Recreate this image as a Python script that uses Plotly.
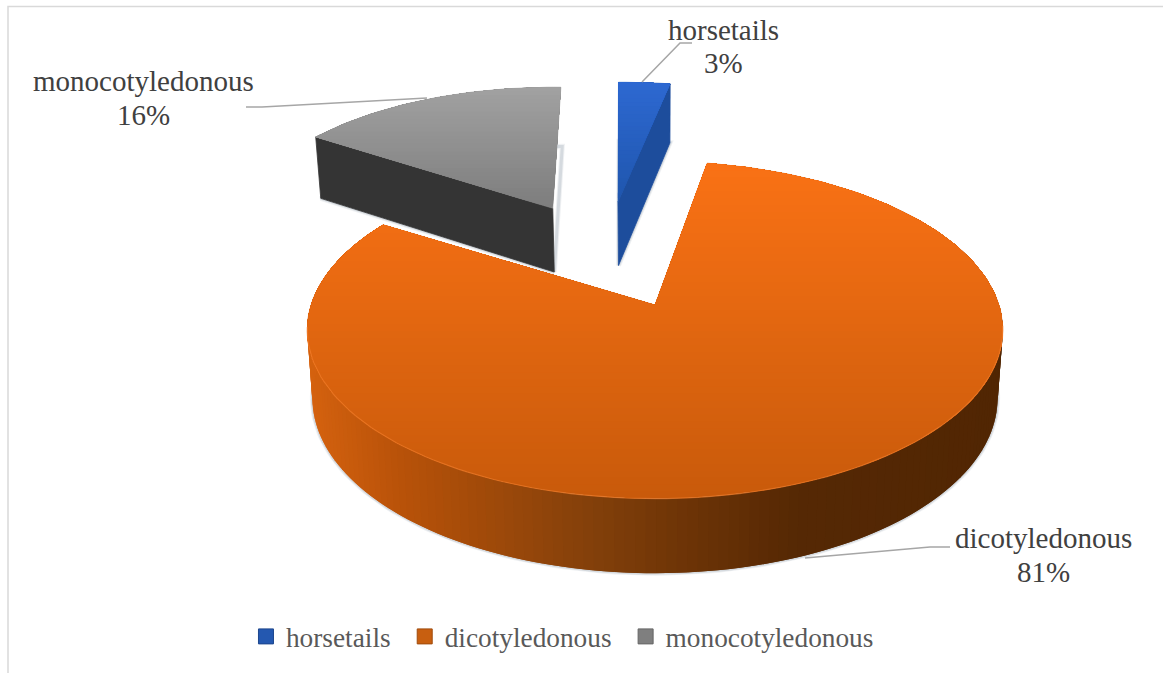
import math
import plotly.graph_objects as go

# ---- data ----
categories = ["horsetails", "dicotyledonous", "monocotyledonous"]
shares = [3, 81, 16]
legend_colors = ["#2458B0", "#C85F10", "#7F7F7F"]

# ---- projection of the tilted pie (screen pixels) ----
W, H = 1163, 673
X0, Y0 = 655, 305          # screen position of the dicotyledonous apex
A, B, K = 344, 165, 0.148  # radii and perspective strength
START_DEG = -0.8           # first slice starts here, clockwise from the back
EXPLODE = 0.36
BASE_SCALE = 0.985
warp = None                # small per-slice correction of the projection


def project(u, v):
    s = 1 / (1 - K * v)
    return X0 + A * u * s, Y0 + B * v * s, s


def apply_warp(x, y):
    if warp is None:
        return x, y
    cx, sx, shear = warp
    return cx + (x - cx) * sx, y - shear * (cx - x)


def top(u, v):
    x, y, _ = project(u, v)
    return apply_warp(x, y)


def bottom(u, v):
    x, y, s = project(u, v)
    return apply_warp(X0 + (x - X0) * BASE_SCALE, y + 25.6 + 41.7 * s)


def hexmix(c1, c2, t):
    a = [int(c1[i:i + 2], 16) for i in (1, 3, 5)]
    b = [int(c2[i:i + 2], 16) for i in (1, 3, 5)]
    return "#%02x%02x%02x" % tuple(round(p + (q - p) * t) for p, q in zip(a, b))


def ramp(stops, x):
    if x <= stops[0][0]:
        return stops[0][1]
    for (x1, c1), (x2, c2) in zip(stops, stops[1:]):
        if x <= x2:
            return hexmix(c1, c2, (x - x1) / (x2 - x1))
    return stops[-1][1]


def clip_above(poly, ymax):
    """Keep the part of a polygon with y <= ymax."""
    out = []
    for (x1, y1), (x2, y2) in zip(poly, poly[1:] + poly[:1]):
        if y1 <= ymax:
            out.append((x1, y1))
        if (y1 <= ymax) != (y2 <= ymax):
            t = (ymax - y1) / (y2 - y1)
            out.append((x1 + (x2 - x1) * t, ymax))
    return out


fig = go.Figure()


def add_poly(poly, fill, line=None, width=1.0):
    fig.add_trace(go.Scatter(
        x=[p[0] for p in poly] + [poly[0][0]],
        y=[p[1] for p in poly] + [poly[0][1]],
        mode="lines", fill="toself", fillcolor=fill,
        line=dict(color=line or fill, width=width),
        hoverinfo="skip", showlegend=False))


# slice angles from the shares
total = sum(shares)
angles = {}
a0 = START_DEG
for name, share in zip(categories, shares):
    a1 = a0 + share / total * 360
    angles[name] = (a0, a1)
    a0 = a1


def direction(deg):
    r = math.radians(deg)
    return math.sin(r), -math.cos(r)


ma = sum(angles["dicotyledonous"]) / 2
du, dv = direction(ma)
base_u, base_v = -EXPLODE * du, -EXPLODE * dv


def slice_geometry(name):
    a, b = angles[name]
    m = (a + b) / 2
    mu, mv = direction(m)
    cu, cv = base_u + EXPLODE * mu, base_v + EXPLODE * mv
    n = max(4, int((b - a) / 1.5))
    rim = []
    for i in range(n + 1):
        ru, rv = direction(a + (b - a) * i / n)
        rim.append((cu + ru, cv + rv))
    return (cu, cv), rim


def shadow(center, rim):
    poly = [bottom(*center)] + [bottom(*p) for p in rim]
    for w, alpha in ((5, 0.10), (3, 0.16)):
        fig.add_trace(go.Scatter(
            x=[p[0] for p in poly] + [poly[0][0]],
            y=[p[1] for p in poly] + [poly[0][1]],
            mode="lines", line=dict(color=f"rgba(90,105,125,{alpha})", width=w),
            hoverinfo="skip", showlegend=False))


def top_face(center, rim, y_stops, bands):
    poly = [top(*center)] + [top(*p) for p in rim]
    ys = [p[1] for p in poly]
    y_lo, y_hi = min(ys), max(ys)
    add_poly(poly, ramp(y_stops, y_hi), width=0.5)
    for i in range(1, bands):
        ymax = y_hi - (y_hi - y_lo) * i / bands
        part = clip_above(poly, ymax)
        if len(part) > 2:
            add_poly(part, ramp(y_stops, ymax), width=0)


# ---- dicotyledonous ----
c, rim = slice_geometry("dicotyledonous")
shadow(c, rim)
side_stops = [(306, "#D5620F"), (400, "#B85209"), (590, "#83400A"),
              (700, "#6A3206"), (800, "#552804"), (1001, "#512603")]
for i in range(0, len(rim) - 1):
    p, q = rim[i], rim[min(i + 2, len(rim) - 1)]
    mid = rim[i + 1]
    strip = [top(*p), top(*mid), top(*q), bottom(*q), bottom(*mid), bottom(*p)]
    add_poly(strip, ramp(side_stops, (top(*p)[0] + top(*mid)[0]) / 2), width=0)
top_face(c, rim, [(163, "#FA7215"), (499, "#C95A0B")], 48)
front = [top(*p) for p in rim if top(*p)[1] > Y0 + 20]
fig.add_trace(go.Scatter(x=[p[0] for p in front], y=[p[1] for p in front], mode="lines",
                         line=dict(color="rgba(255,140,60,0.45)", width=1.2),
                         hoverinfo="skip", showlegend=False))

# ---- monocotyledonous ----
c, rim = slice_geometry("monocotyledonous")
warp = (top(*c)[0], 0.975, 0.016)
shadow(c, rim)
add_poly([top(*c), top(*rim[0]), bottom(*rim[0]), bottom(*c)], "#343434", width=0.8)
top_face(c, rim, [(87, "#A2A2A2"), (207, "#7E7E7E")], 30)
warp = None

# ---- horsetails ----
c, rim = slice_geometry("horsetails")
shadow(c, rim)
add_poly([top(*c), top(*rim[-1]), bottom(*rim[-1]), bottom(*c)], "#1D4D9C", width=0.8)
top_face(c, rim, [(82, "#2E69D2"), (200, "#1F56AE")], 30)

# ---- leader lines ----
leaders = [
    ([692, 680, 642], [43, 43, 82]),
    ([246, 262, 427], [107, 107, 98]),
    ([950, 930, 805], [547, 547, 558]),
]
for lx, ly in leaders:
    fig.add_trace(go.Scatter(x=lx, y=ly, mode="lines",
                             line=dict(color="#A6A6A6", width=1.5),
                             hoverinfo="skip", showlegend=False))

# ---- legend entries ----
for name, col in zip(categories, legend_colors):
    fig.add_trace(go.Scatter(
        x=[None], y=[None], mode="markers", name=name + "\u00a0\u200a",
        marker=dict(symbol="square", size=15, color=col,
                    line=dict(color=hexmix(col, "#000000", 0.2), width=1))))

# ---- labels ----
label_pos = {
    "horsetails": (723, 30, 63),
    "dicotyledonous": (1043, 538, 572),
    "monocotyledonous": (143, 81, 115),
}
annotations = []
for name, share in zip(categories, shares):
    lx, y1, y2 = label_pos[name]
    for text, ly in ((name, y1), (f"{share}%", y2)):
        annotations.append(dict(
            x=lx, y=ly, xref="x", yref="y", text=text, showarrow=False,
            xanchor="center", yanchor="middle",
            font=dict(family="Liberation Serif", size=29, color="#404040")))

fig.update_layout(
    width=W, height=H,
    margin=dict(l=0, r=0, t=0, b=0),
    paper_bgcolor="white", plot_bgcolor="white",
    xaxis=dict(range=[0, W], visible=False, fixedrange=True),
    yaxis=dict(range=[H, 0], visible=False, fixedrange=True),
    annotations=annotations,
    hovermode=False,
    legend=dict(orientation="h", x=0.2115, xanchor="left", y=0.054, yanchor="middle",
                bgcolor="rgba(0,0,0,0)", itemclick=False, itemdoubleclick=False,
                font=dict(family="Liberation Serif", size=27.3, color="#595959")),
    shapes=[dict(type="rect", xref="x", yref="y", x0=8, x1=1300, y0=6.5, y1=720,
                 line=dict(color="#D9D9D9", width=1.5), layer="below")],
)

fig.write_html("out.html", config=dict(displayModeBar=False),
               post_script="document.body.style.margin='0';document.body.style.overflow='hidden';")
